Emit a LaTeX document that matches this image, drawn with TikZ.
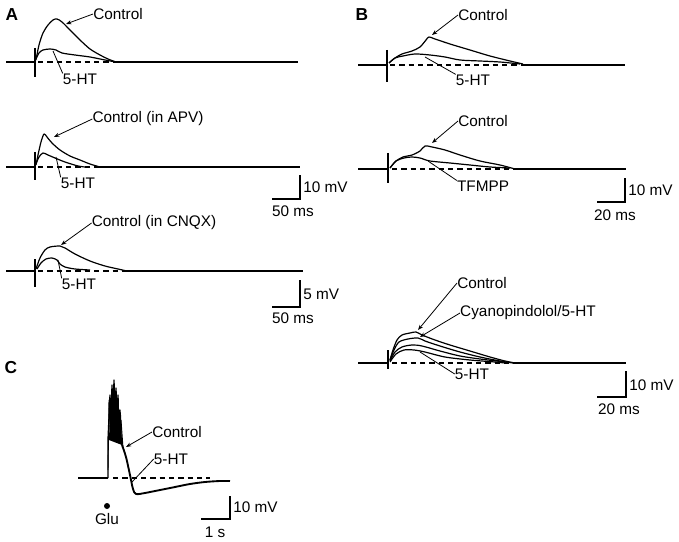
\documentclass[tikz,border=0pt]{standalone}
\usepackage{fontspec}
\setmainfont{Liberation Sans}
\usetikzlibrary{arrows.meta}
\begin{document}
\begin{tikzpicture}[x=0.75pt,y=-0.75pt,
  lbl/.style={font=\fontsize{11.5}{13}\selectfont, inner sep=0pt},
  panel/.style={font=\fontsize{13}{15}\selectfont\bfseries, inner sep=0pt},
  trace/.style={line width=0.9pt, line join=round},
  base/.style={line width=1.4pt},
  artifact/.style={line width=1.5pt},
  zero/.style={line width=0.8pt, dash pattern=on 4pt off 3pt},
  ptr/.style={line width=0.6pt, -{Stealth[length=4pt,width=3pt]}},
  lead/.style={line width=0.6pt},
  bar/.style={line width=1.2pt}]
\useasboundingbox (0,0) rectangle (679,542);

% ---------- Panel labels
\node[panel] (pA) at (12,15) {A};
\node[panel] (pB) at (362,15) {B};
\node[panel] (pC) at (11,368) {C};

% ---------- A1
\draw[base] (6,62) -- (35,62);
\draw[base] (114,62) -- (298,62);
\draw[artifact] (35,48) -- (35,77);
\draw[zero] (38,62) -- (114,62);
\draw[trace] plot[smooth] coordinates {(36,60) (39,45) (43,33) (48,25) (53,20) (57,19) (62,22) (70,30) (80,40) (90,49) (100,55) (108,59) (116,62)};
\draw[trace] plot[smooth] coordinates {(36,59) (39,53) (43,50) (50,49) (56,50) (62,53) (75,55) (90,57) (105,60) (116,62)};
\node[lbl] (a1c) at (118,14) {Control};
\node[lbl] (a1h) at (80,79) {5-HT};
\coordinate (a1cp) at (66,24);
\coordinate (a1hp) at (53,51);
\draw[ptr] (a1c.west) -- (a1cp);
\draw[lead] (a1h.north west) -- (a1hp);

% ---------- A2
\draw[base] (6,167) -- (35,167);
\draw[base] (98,167) -- (300,167);
\draw[artifact] (35,152) -- (35,180);
\draw[zero] (38,167) -- (98,167);
\draw[trace] plot[smooth] coordinates {(36,165) (38,155) (41,142) (44,134) (47,137) (52,143) (60,150) (70,156) (80,160) (90,164) (100,167)};
\draw[trace] plot[smooth] coordinates {(36,164) (39,157) (43,153) (48,155) (55,158) (65,162) (78,166) (85,167)};
\node[lbl] (a2c) at (148,119) {Control (in APV)};
\node[lbl] (a2h) at (78,183) {5-HT};
\coordinate (a2cp) at (54,137);
\coordinate (a2hp) at (56,157);
\draw[ptr] (a2c.west) -- (a2cp);
\draw[lead] (a2h.north west) -- (a2hp);
\coordinate (a2s1) at (300,175);
\coordinate (a2s2) at (300,199);
\coordinate (a2s3) at (272,199);
\draw[bar] (a2s1) -- (a2s2) -- (a2s3);
\node[lbl, anchor=west] (a2v) at (303,187) {10 mV};
\node[lbl] (a2t) at (293,211) {50 ms};

% ---------- A3
\draw[base] (6,271) -- (35,271);
\draw[base] (125,271) -- (303,271);
\draw[artifact] (35,259) -- (35,287);
\draw[zero] (38,271) -- (125,271);
\draw[trace] plot[smooth] coordinates {(36,269) (40,258) (45,250) (50,247) (60,246) (65,248) (75,254) (90,261) (105,266) (118,269) (127,271)};
\draw[trace] plot[smooth] coordinates {(37,269) (41,263) (46,259) (52,258) (57,260) (60,264) (65,267) (75,269) (90,270)};
\node[lbl] (a3c) at (154,223) {Control (in CNQX)};
\node[lbl] (a3h) at (79,284) {5-HT};
\coordinate (a3cp) at (61,245);
\coordinate (a3hp) at (58,260);
\draw[ptr] (a3c.west) -- (a3cp);
\draw[lead] (a3h.north west) -- (a3hp);
\coordinate (a3s1) at (300,280);
\coordinate (a3s2) at (300,307);
\coordinate (a3s3) at (272,307);
\draw[bar] (a3s1) -- (a3s2) -- (a3s3);
\node[lbl, anchor=west] (a3v) at (303,294) {5 mV};
\node[lbl] (a3t) at (293,318) {50 ms};

% ---------- B1
\draw[base] (358,65) -- (387,65);
\draw[base] (521,65) -- (625,65);
\draw[artifact] (387,50) -- (387,82);
\draw[zero] (390,65) -- (521,65);
\draw[trace] plot[smooth] coordinates {(389,63) (395,58) (402,54) (412,51) (420,47) (426,40) (429,37) (435,39) (450,44) (470,50) (490,56) (510,61) (523,64)};
\draw[trace] plot[smooth] coordinates {(389,63) (395,58) (403,56) (415,54) (430,55) (445,57) (460,60) (480,61) (500,62) (520,64)};
\node[lbl] (b1c) at (483,15) {Control};
\node[lbl] (b1h) at (473,80) {5-HT};
\coordinate (b1cp) at (432,35);
\coordinate (b1hp) at (425,57);
\draw[ptr] (b1c.west) -- (b1cp);
\draw[lead] (b1h.north west) -- (b1hp);

% ---------- B2
\draw[base] (358,169) -- (388,169);
\draw[base] (513,169) -- (626,169);
\draw[artifact] (388,153) -- (388,183);
\draw[zero] (392,169) -- (513,169);
\draw[trace] plot[smooth] coordinates {(390,168) (396,161) (403,157) (412,155) (420,151) (425,146) (432,147) (445,150) (460,155) (480,161) (500,165) (515,169)};
\draw[trace] plot[smooth] coordinates {(390,168) (396,161) (404,158) (412,157) (420,158) (430,161) (450,163) (470,165) (490,167) (510,168)};
\node[lbl] (b2c) at (483,121) {Control};
\node[lbl] (b2h) at (483,186) {TFMPP};
\coordinate (b2cp) at (432,143);
\coordinate (b2hp) at (428,161);
\draw[ptr] (b2c.west) -- (b2cp);
\draw[lead] (b2h.north west) -- (b2hp);
\coordinate (b2s1) at (625,178);
\coordinate (b2s2) at (625,202);
\coordinate (b2s3) at (597,202);
\draw[bar] (b2s1) -- (b2s2) -- (b2s3);
\node[lbl, anchor=west] (b2v) at (628,190) {10 mV};
\node[lbl] (b2t) at (615,215) {20 ms};

% ---------- B3
\draw[base] (358,363) -- (388,363);
\draw[base] (513,363) -- (626,363);
\draw[artifact] (388,350) -- (388,369);
\draw[zero] (392,363) -- (513,363);
\draw[trace] plot[smooth] coordinates {(390,360) (393,350) (397,340) (402,335) (410,333) (416,332) (422,335) (435,340) (450,345) (470,351) (490,357) (505,361) (515,363)};
\draw[trace] plot[smooth] coordinates {(390,360) (394,350) (399,342) (408,339) (418,338) (425,341) (440,346) (460,352) (480,357) (500,361) (513,363)};
\draw[trace] plot[smooth] coordinates {(390,361) (395,352) (402,347) (412,345) (422,346) (440,351) (460,356) (480,359) (505,362)};
\draw[trace] plot[smooth] coordinates {(390,362) (396,354) (404,350) (414,350) (425,352) (445,357) (470,360) (495,362) (505,363)};
\node[lbl] (b3c) at (482,283) {Control};
\node[lbl] (b3y) at (528,313) {Cyanopindolol/5-HT};
\node[lbl] (b3h) at (472,374) {5-HT};
\coordinate (b3cp) at (418,330);
\coordinate (b3yp) at (420,337);
\coordinate (b3hp) at (420,352);
\draw[ptr] (b3c.west) -- (b3cp);
\draw[ptr] (b3y.west) -- (b3yp);
\draw[lead] (b3h.west) -- (b3hp);
\coordinate (b3s1) at (626,371);
\coordinate (b3s2) at (626,397);
\coordinate (b3s3) at (597,397);
\draw[bar] (b3s1) -- (b3s2) -- (b3s3);
\node[lbl, anchor=west] (b3v) at (629,385) {10 mV};
\node[lbl] (b3t) at (619,409) {20 ms};

% ---------- C
\draw[base] (78,478) -- (108,478);
\draw[zero] (113,478) -- (210,478);
\draw[trace, line width=1pt] (108,478) -- (108,440) -- (110,395) -- (111,430) -- (112,385) -- (113,425) -- (114,380) -- (115,420) -- (116,388) -- (117,430) -- (118,395) -- (119,435) -- (120,410) -- (121,440) -- (122,445);
\fill (109,440) -- (110,410) -- (121,415) -- (122,445) -- cycle;
\draw[trace, line width=0.7pt] (108,470) -- (109,400) -- (111,440) -- (113,392) -- (115,436) -- (117,398) -- (119,440) -- (121,420) -- (123,448);
\draw[line width=1.4pt, line join=round] plot[smooth] coordinates {(122,445) (126,457) (130,475) (133,489) (136,494) (145,493) (160,490) (175,487) (190,484) (205,482) (220,481) (230,481)};
\node[lbl] (cc) at (177,432) {Control};
\node[lbl] (ch) at (171,459) {5-HT};
\coordinate (ccp) at (126,447);
\coordinate (chp) at (132,482);
\draw[ptr] (cc.west) -- (ccp);
\draw[lead] (ch.west) -- (chp);
\fill (107,506) circle[radius=3];
\node[lbl] (glu) at (107,519) {Glu};
\coordinate (cs1) at (230,496);
\coordinate (cs2) at (230,519);
\coordinate (cs3) at (201,519);
\draw[bar] (cs1) -- (cs2) -- (cs3);
\node[lbl, anchor=west] (cv) at (233,507) {10 mV};
\node[lbl] (ct) at (215,532) {1 s};
\end{tikzpicture}
\end{document}
